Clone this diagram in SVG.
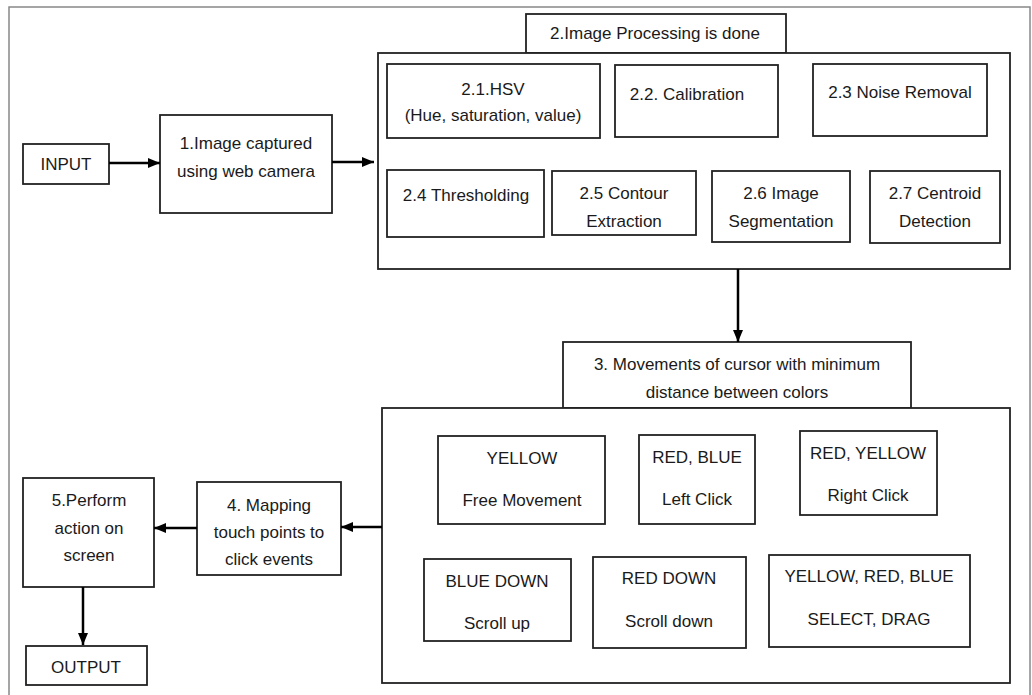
<svg xmlns="http://www.w3.org/2000/svg" width="1032" height="695" viewBox="0 0 1032 695">
<style>
.b{fill:#fff;stroke:#222;stroke-width:1.8}
.t{font-family:"Liberation Sans",Arial,sans-serif;font-size:17px;fill:#1a1a1a;text-anchor:middle}
.c{fill:none;stroke:#000;stroke-width:2.5}
</style>
<defs>
<marker id="ah" markerUnits="userSpaceOnUse" markerWidth="12" markerHeight="12" viewBox="0 0 12 12" refX="12" refY="6" orient="auto">
<path d="M0,1 L12,6 L0,11 Z" fill="#000"/>
</marker>
</defs>
<rect x="0" y="0" width="1032" height="695" fill="#fff"/>
<rect x="9" y="7" width="1021" height="700" fill="none" stroke="#888" stroke-width="1.5"/>

<g id="input"><rect class="b" x="23" y="144" width="86" height="40"/><text class="t" x="66" y="170">INPUT</text></g>
<g id="n1"><rect class="b" x="160" y="115" width="172" height="98"/><text class="t" x="246" y="149">1.Image captured</text><text class="t" x="246" y="177">using web camera</text></g>

<g id="n2">
<rect class="b" x="526" y="14" width="260" height="39"/><text class="t" x="655" y="39">2.Image Processing is done</text>
<rect class="b" x="378" y="53" width="632" height="216"/>
<g id="n21"><rect class="b" x="387" y="64" width="213" height="74"/><text class="t" x="493" y="95">2.1.HSV</text><text class="t" x="493" y="121">(Hue, saturation, value)</text></g>
<g id="n22"><rect class="b" x="615" y="65" width="163" height="72"/><text class="t" x="687" y="100">2.2. Calibration</text></g>
<g id="n23"><rect class="b" x="813" y="64" width="174" height="72"/><text class="t" x="900" y="98">2.3 Noise Removal</text></g>
<g id="n24"><rect class="b" x="387" y="170" width="157" height="67"/><text class="t" x="466" y="201">2.4 Thresholding</text></g>
<g id="n25"><rect class="b" x="552" y="171" width="144" height="64"/><text class="t" x="624" y="199">2.5 Contour</text><text class="t" x="624" y="227">Extraction</text></g>
<g id="n26"><rect class="b" x="712" y="171" width="138" height="71"/><text class="t" x="781" y="199">2.6 Image</text><text class="t" x="781" y="227">Segmentation</text></g>
<g id="n27"><rect class="b" x="870" y="171" width="130" height="72"/><text class="t" x="935" y="199">2.7 Centroid</text><text class="t" x="935" y="227">Detection</text></g>
</g>

<g id="n3">
<rect class="b" x="563" y="342" width="348" height="66"/><text class="t" x="737" y="370">3. Movements of cursor with minimum</text><text class="t" x="737" y="398">distance between colors</text>
<rect class="b" x="382" y="408" width="628" height="275"/>
<g id="n31"><rect class="b" x="438" y="436" width="167" height="88"/><text class="t" x="522" y="464">YELLOW</text><text class="t" x="522" y="506">Free Movement</text></g>
<g id="n32"><rect class="b" x="639" y="435" width="116" height="89"/><text class="t" x="697" y="463">RED, BLUE</text><text class="t" x="697" y="505">Left Click</text></g>
<g id="n33"><rect class="b" x="800" y="431" width="137" height="84"/><text class="t" x="868" y="459">RED, YELLOW</text><text class="t" x="868" y="501">Right Click</text></g>
<g id="n34"><rect class="b" x="424" y="559" width="147" height="82"/><text class="t" x="497" y="587">BLUE DOWN</text><text class="t" x="497" y="629">Scroll up</text></g>
<g id="n35"><rect class="b" x="593" y="557" width="153" height="91"/><text class="t" x="669" y="584">RED DOWN</text><text class="t" x="669" y="627">Scroll down</text></g>
<g id="n36"><rect class="b" x="769" y="555" width="201" height="92"/><text class="t" x="869" y="582">YELLOW, RED, BLUE</text><text class="t" x="869" y="625">SELECT, DRAG</text></g>
</g>

<g id="n4"><rect class="b" x="197" y="482" width="144" height="93"/><text class="t" x="269" y="511">4. Mapping</text><text class="t" x="269" y="538">touch points to</text><text class="t" x="269" y="565">click events</text></g>
<g id="n5"><rect class="b" x="23" y="478" width="131" height="109"/><text class="t" x="89" y="506">5.Perform</text><text class="t" x="89" y="534">action on</text><text class="t" x="89" y="561">screen</text></g>
<g id="output"><rect class="b" x="26" y="646" width="121" height="39"/><text class="t" x="86" y="673">OUTPUT</text></g>

<g id="connectors">
<line class="c" x1="109" y1="163" x2="160" y2="163" marker-end="url(#ah)"/>
<line class="c" x1="332" y1="162" x2="374" y2="162" stroke-width="3" marker-end="url(#ah)"/>
<line class="c" x1="738" y1="269" x2="738" y2="342" marker-end="url(#ah)"/>
<line class="c" x1="382" y1="527" x2="341" y2="527" marker-end="url(#ah)"/>
<line class="c" x1="197" y1="528" x2="154" y2="528" marker-end="url(#ah)"/>
<line class="c" x1="83" y1="587" x2="83" y2="645" marker-end="url(#ah)"/>
</g>
</svg>
